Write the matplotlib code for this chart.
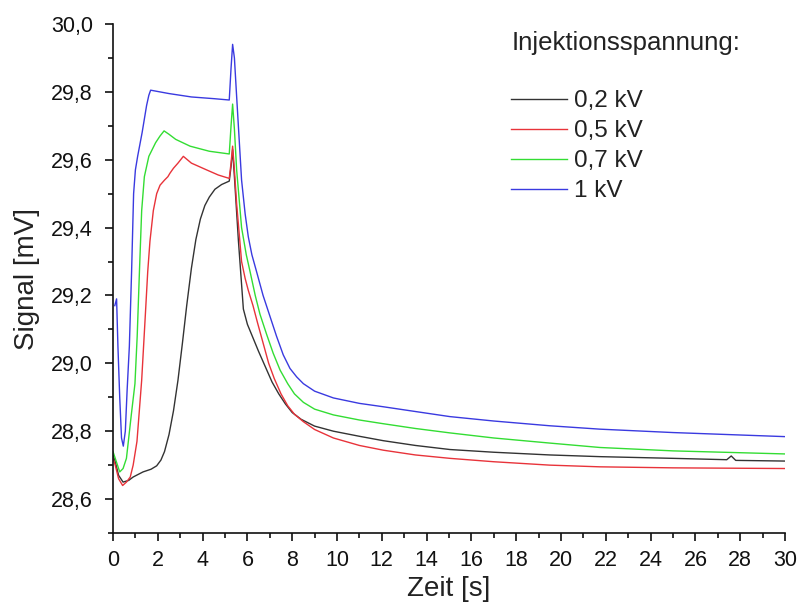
import matplotlib
matplotlib.use("Agg")
import matplotlib.pyplot as plt
from matplotlib.ticker import MultipleLocator, FuncFormatter

plt.rcParams['font.family'] = ['Liberation Sans', 'DejaVu Sans']

# ---- data ----
t_02 = [0.0, 0.1, 0.25, 0.45, 0.7, 0.9, 1.34, 1.7, 1.95, 2.14, 2.3, 2.5, 2.7, 2.9, 3.1, 3.29,
        3.5, 3.7, 3.9, 4.1, 4.3, 4.55, 4.85, 5.19, 5.27, 5.34, 5.42, 5.6, 5.82, 6.0, 6.25, 6.5,
        6.8, 7.1, 7.4, 7.7, 8.0, 8.4, 9.0, 9.84, 11.0, 12.07, 13.5, 15.04, 17.0, 19.5, 21.74,
        25.0, 27.4, 27.6, 27.8, 30.0]
v_02 = [28.73, 28.71, 28.67, 28.65, 28.655, 28.665, 28.68, 28.688, 28.698, 28.715, 28.74, 28.79,
        28.86, 28.95, 29.06, 29.17, 29.28, 29.365, 29.425, 29.465, 29.49, 29.513, 29.527, 29.537,
        29.58, 29.63, 29.55, 29.36, 29.16, 29.115, 29.075, 29.035, 28.99, 28.945, 28.91, 28.88,
        28.855, 28.835, 28.815, 28.80, 28.785, 28.772, 28.758, 28.746, 28.738, 28.73, 28.725,
        28.72, 28.716, 28.727, 28.714, 28.712]

t_05 = [0.0, 0.1, 0.25, 0.43, 0.6, 0.77, 0.9, 1.07, 1.28, 1.45, 1.55, 1.65, 1.8, 1.95, 2.1, 2.3,
        2.45, 2.54, 2.7, 2.9, 3.14, 3.5, 4.18, 4.7, 5.19, 5.27, 5.34, 5.42, 5.52, 5.74, 5.9,
        6.04, 6.25, 6.45, 6.7, 6.95, 7.2, 7.5, 7.8, 8.1, 8.5, 9.0, 9.84, 11.0, 12.07, 13.5, 15.04,
        17.0, 19.5, 21.74, 25.0, 30.0]
v_05 = [28.72, 28.70, 28.66, 28.64, 28.65, 28.665, 28.70, 28.77, 28.95, 29.15, 29.27, 29.36,
        29.45, 29.50, 29.525, 29.54, 29.55, 29.56, 29.575, 29.59, 29.61, 29.59, 29.57, 29.555,
        29.545, 29.59, 29.64, 29.57, 29.47, 29.30, 29.25, 29.215, 29.17, 29.12, 29.06, 29.0,
        28.955, 28.91, 28.875, 28.85, 28.828, 28.805, 28.78, 28.758, 28.744, 28.73, 28.72,
        28.71, 28.70, 28.695, 28.692, 28.69]

t_07 = [0.0, 0.1, 0.3, 0.45, 0.6, 0.82, 0.98, 1.08, 1.18, 1.28, 1.4, 1.6, 1.9, 2.1, 2.28, 2.5,
        2.8, 3.44, 4.3, 5.19, 5.27, 5.34, 5.42, 5.52, 5.74, 5.95, 6.12, 6.35, 6.56, 6.86, 7.15,
        7.46, 7.8, 8.1, 8.5, 9.0, 9.84, 11.0, 12.07, 13.5, 15.04, 17.0, 19.5, 21.74, 25.0, 30.0]
v_07 = [28.74, 28.72, 28.68, 28.69, 28.72, 28.85, 28.94, 29.08, 29.27, 29.45, 29.55, 29.61,
        29.65, 29.67, 29.685, 29.675, 29.66, 29.64, 29.625, 29.617, 29.70, 29.764, 29.69,
        29.57, 29.40, 29.32, 29.27, 29.2, 29.145, 29.085, 29.03, 28.98, 28.94, 28.91, 28.885,
        28.865, 28.848, 28.833, 28.822, 28.808, 28.795, 28.78, 28.765, 28.752, 28.742, 28.733]

t_10 = [0.08, 0.16, 0.22, 0.3, 0.38, 0.46, 0.55, 0.63, 0.73, 0.83, 0.92, 1.0, 1.1, 1.2, 1.3,
        1.4, 1.5, 1.6, 1.68, 2.5, 3.5, 4.5, 5.19, 5.27, 5.34, 5.42, 5.52, 5.74, 5.9, 6.04, 6.2,
        6.41, 6.7, 7.0, 7.3, 7.6, 7.9, 8.2, 8.5, 9.0, 9.84, 11.0, 12.07, 13.5, 15.04, 17.0, 19.5,
        21.74, 25.0, 30.0]
v_10 = [29.17, 29.19, 29.05, 28.90, 28.78, 28.756, 28.80, 28.92, 29.05, 29.27, 29.50, 29.57,
        29.61, 29.645, 29.68, 29.72, 29.76, 29.79, 29.805, 29.795, 29.785, 29.78, 29.776, 29.87,
        29.94, 29.90, 29.786, 29.54, 29.44, 29.373, 29.32, 29.27, 29.2, 29.14, 29.08, 29.025,
        28.985, 28.96, 28.94, 28.918, 28.898, 28.882, 28.872, 28.858, 28.843, 28.83, 28.816,
        28.806, 28.796, 28.784]

series = [
    ("0,2 kV", t_02, v_02, "#333333"),
    ("0,5 kV", t_05, v_05, "#e8333a"),
    ("0,7 kV", t_07, v_07, "#33dd33"),
    ("1 kV", t_10, v_10, "#3a3ae0"),
]

x_ticks = list(range(0, 31, 2))
y_ticks = [28.6, 28.8, 29.0, 29.2, 29.4, 29.6, 29.8, 30.0]

# ---- figure ----
W, H = 799, 608
fig = plt.figure(figsize=(W / 100, H / 100), dpi=100)
ax = fig.add_axes([113 / W, 1 - 533 / H, 672 / W, 509 / H])

for label, t, v, c in series:
    ax.plot(t, v, color=c, lw=1.0, label=label)

ax.set_xlim(0, 30)
ax.set_ylim(28.5, 30.0)
ax.set_xticks(x_ticks)
ax.set_yticks(y_ticks)
ax.xaxis.set_minor_locator(MultipleLocator(1))
ax.yaxis.set_minor_locator(MultipleLocator(0.1))
ax.yaxis.set_major_formatter(FuncFormatter(lambda v, p: f"{v:.1f}".replace(".", ",")))

for s in ("top", "right"):
    ax.spines[s].set_visible(False)
for s in ("left", "bottom"):
    ax.spines[s].set_linewidth(1.2)
    ax.spines[s].set_color("#111111")

ax.tick_params(which="major", direction="out", length=6, width=1.2, labelsize=15.5,
               colors="#111111")
ax.tick_params(axis="x", which="major", pad=6)
ax.tick_params(axis="y", which="major", pad=8.5)
ax.tick_params(which="minor", direction="out", length=3.5, width=1.2, colors="#111111")

ax.set_xlabel("Zeit [s]", fontsize=20, color="#222222", labelpad=4)
ax.set_ylabel("Signal [mV]", fontsize=20, color="#222222", labelpad=8)

fig.text(512 / W, 1 - 43 / H, "Injektionsspannung:", fontsize=18.5, color="#222222",
         ha="left", va="center")
leg = ax.legend(loc="upper left", bbox_to_anchor=(511 / W, 1 - 90 / H),
                bbox_transform=fig.transFigure, frameon=False, fontsize=17.5,
                borderpad=0, borderaxespad=0, handlelength=2.3, handletextpad=0.3,
                labelspacing=0.33)
for txt in leg.get_texts():
    txt.set_color("#222222")

fig.savefig("out.png", dpi=100)
